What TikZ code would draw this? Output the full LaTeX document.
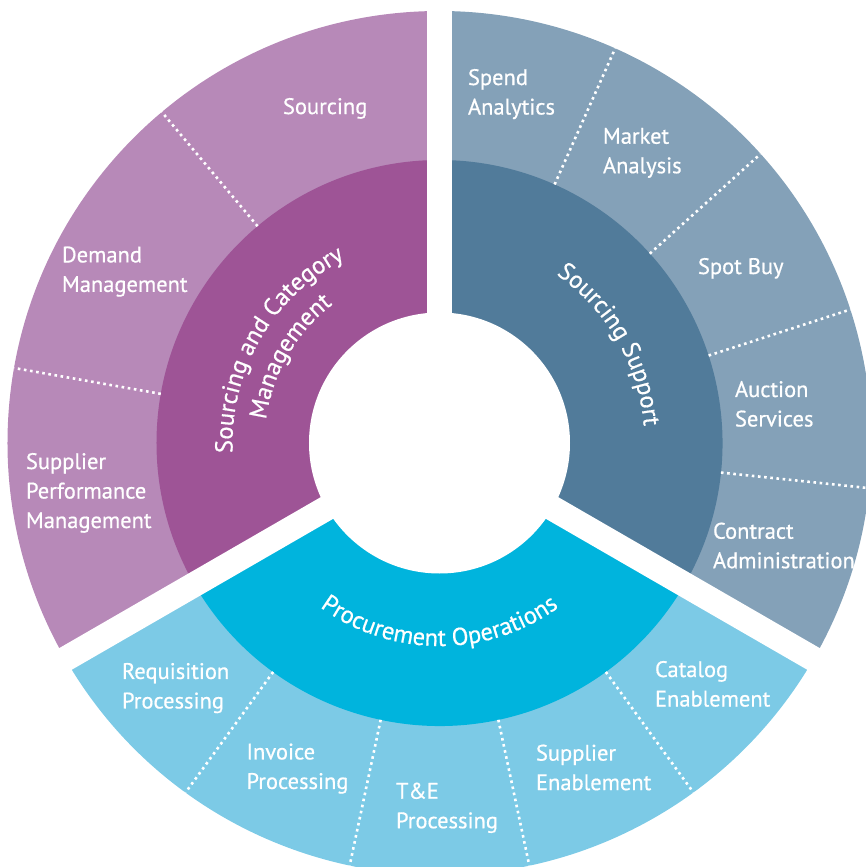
\documentclass[tikz,border=0pt]{standalone}
\usepackage{fontspec}
\setmainfont[FakeBold=0.6]{PT Sans}
\usetikzlibrary{decorations.text}

\definecolor{scmLight}{RGB}{183,137,184}
\definecolor{scmDark}{RGB}{158,84,150}
\definecolor{supLight}{RGB}{132,161,184}
\definecolor{supDark}{RGB}{81,123,154}
\definecolor{opsLight}{RGB}{124,202,230}
\definecolor{opsDark}{RGB}{0,180,221}
\newcommand{\ringfont}{\color{white}\fontsize{24.5}{29}\selectfont}

\begin{document}
\begin{tikzpicture}[x=1pt, y=1pt,
  seglabel/.style={anchor=north west, inner sep=0pt, outer sep=0pt, align=left, text=white, font=\fontsize{22.5}{29.5}\selectfont},
  sepline/.style={white, line width=2.6pt, dash pattern=on 2.6pt off 3.6pt},
  gapline/.style={white, line width=25pt}]
\useasboundingbox (-439.5,-424) rectangle (425.5,443);

\fill[scmLight] (0,0) -- (90:432) arc[start angle=90, end angle=210, radius=432] -- cycle;
\fill[supLight] (0,0) -- (-30:432) arc[start angle=-30, end angle=90, radius=432] -- cycle;
\fill[opsLight] (0,0) -- (210:432) arc[start angle=210, end angle=330, radius=432] -- cycle;

\fill[scmDark] (0,0) -- (90:283) arc[start angle=90, end angle=210, radius=283] -- cycle;
\fill[supDark] (0,0) -- (-30:283) arc[start angle=-30, end angle=90, radius=283] -- cycle;
\fill[opsDark] (0,0) -- (210:283) arc[start angle=210, end angle=330, radius=283] -- cycle;

\fill[white] (0,0) circle[radius=130.5];

\draw[sepline] (130:283) -- (130:432);
\draw[sepline] (170:283) -- (170:432);
\draw[sepline] (66:283) -- (66:432);
\draw[sepline] (42:283) -- (42:432);
\draw[sepline] (18:283) -- (18:432);
\draw[sepline] (-6:283) -- (-6:432);
\draw[sepline] (234:283) -- (234:432);
\draw[sepline] (258:283) -- (258:432);
\draw[sepline] (282:283) -- (282:432);
\draw[sepline] (306:283) -- (306:432);

\draw[gapline] (0,0) -- (90:460);
\draw[gapline] (0,0) -- (210:460);
\draw[gapline] (0,0) -- (330:460);

\path[decorate, decoration={text along path, text align=center, text={|\ringfont|Sourcing and Category}}]
  (210:207) arc[start angle=210, end angle=90, radius=207];
\path[decorate, decoration={text along path, text align=center, text={|\ringfont|Management}}]
  (210:175) arc[start angle=210, end angle=90, radius=175];
\path[decorate, decoration={text along path, text align=center, text={|\ringfont|Sourcing Support}}]
  (90:205) arc[start angle=90, end angle=-30, radius=205];
\path[decorate, decoration={text along path, text align=center, text={|\ringfont|Procurement Operations}}]
  (210:203) arc[start angle=210, end angle=330, radius=203];

\node[seglabel] (sourcing) at (-156.5,345) {Sourcing};
\node[seglabel] (demand) at (-377.5,196.5) {Demand\\Management};
\node[seglabel] (supperf) at (-413.5,-10) {Supplier\\Performance\\Management};

\node[seglabel] (spend) at (28.5,374) {Spend\\Analytics};
\node[seglabel] (market) at (163.5,315) {Market\\Analysis};
\node[seglabel] (spotbuy) at (258.5,185) {Spot Buy};
\node[seglabel] (auction) at (295.5,62) {Auction\\Services};
\node[seglabel] (contract) at (273.5,-79.7) {Contract\\Administration};

\node[seglabel] (requisition) at (-317.5,-220) {Requisition\\Processing};
\node[seglabel] (invoice) at (-193,-300.5) {Invoice\\Processing};
\node[seglabel] (tne) at (-43.5,-339.7) {T\&E\\Processing};
\node[seglabel] (suppenable) at (96.5,-301.6) {Supplier\\Enablement};
\node[seglabel] (catalog) at (215.5,-218) {Catalog\\Enablement};
\end{tikzpicture}
\end{document}
